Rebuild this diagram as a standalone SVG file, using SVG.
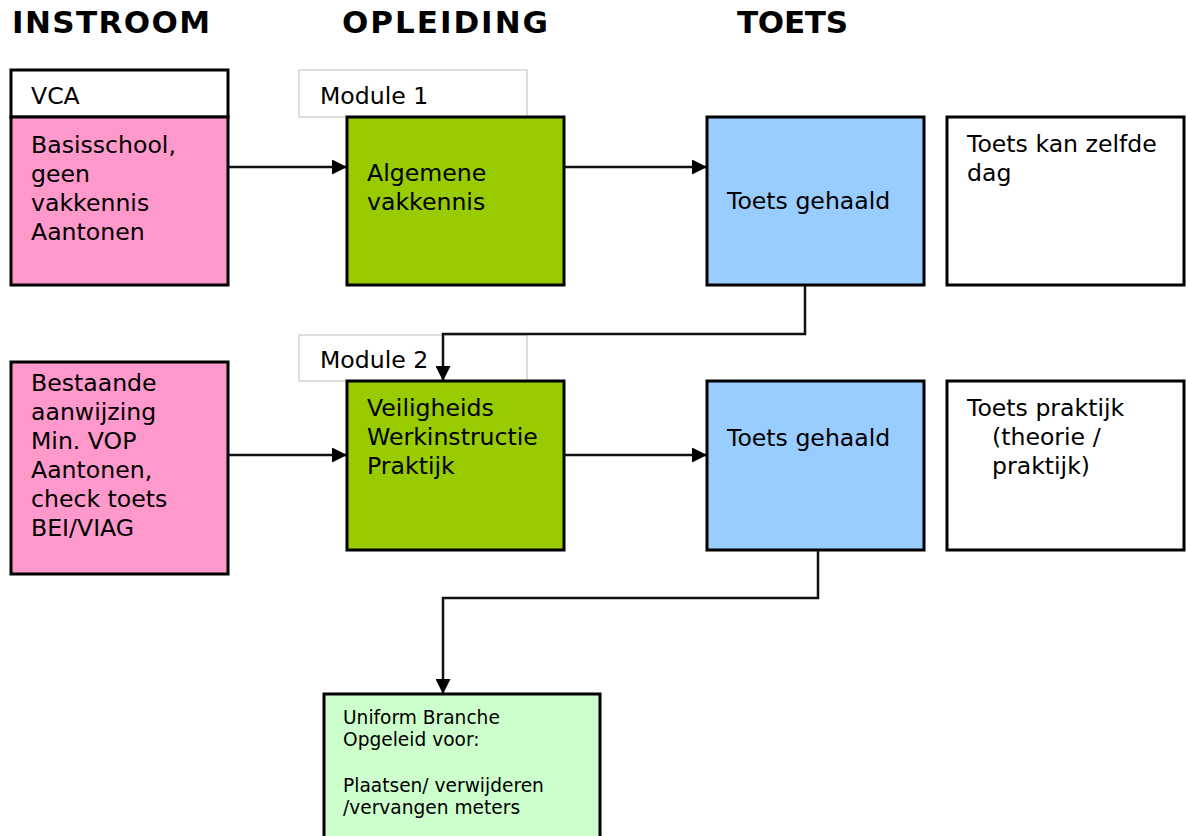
<svg xmlns="http://www.w3.org/2000/svg" width="1186" height="836" viewBox="0 0 1186 836">
<defs>
<marker id="arr" markerWidth="15" markerHeight="15" refX="14" refY="7.5" orient="auto" markerUnits="userSpaceOnUse"><path d="M0,0 L15,7.5 L0,15 Z" fill="#000"/></marker>
<style>
.t{font-family:"DejaVu Sans",Verdana,sans-serif;font-size:23.6px;fill:#000}
.s{font-family:"DejaVu Sans",Verdana,sans-serif;font-size:18.6px;fill:#000}
.h{font-family:"DejaVu Sans","Liberation Sans",sans-serif;font-size:31px;font-weight:bold;fill:#000}
.box{stroke:#000;stroke-width:3}
.lbl{fill:#fff;stroke:#c8c8c8;stroke-width:1.2}
.pink{fill:#FF99CC}.green{fill:#99CC00}.blue{fill:#99CCFF}.white{fill:#fff}.lg{fill:#CCFFCC}
.c{fill:none;stroke:#111;stroke-width:2.5}
</style>
</defs>
<rect width="1186" height="836" fill="#fff"/>
<g id="headers">
<text class="h" x="12" y="33" textLength="198" lengthAdjust="spacing">INSTROOM</text>
<text class="h" x="342" y="33" textLength="206" lengthAdjust="spacing">OPLEIDING</text>
<text class="h" x="737" y="33" textLength="111" lengthAdjust="spacing">TOETS</text>
</g>
<g id="vca">
<rect class="box white" x="11" y="70" width="217" height="47"/>
<text class="t" x="31" y="104">VCA</text>
</g>
<g id="instroom1">
<rect class="box pink" x="11" y="117" width="217" height="168"/>
<text class="t" x="31" y="153">Basisschool,</text>
<text class="t" x="31" y="182">geen</text>
<text class="t" x="31" y="211">vakkennis</text>
<text class="t" x="31" y="240">Aantonen</text>
</g>
<g id="module1">
<rect class="lbl" x="299" y="70" width="228" height="47"/>
<text class="t" x="320" y="104">Module 1</text>
</g>
<g id="opleiding1">
<rect class="box green" x="347" y="117" width="217" height="168"/>
<text class="t" x="367" y="181">Algemene</text>
<text class="t" x="367" y="210">vakkennis</text>
</g>
<g id="toets1">
<rect class="box blue" x="707" y="117" width="217" height="168"/>
<text class="t" x="727" y="209">Toets gehaald</text>
</g>
<g id="note1">
<rect class="box white" x="947" y="117" width="237" height="168"/>
<text class="t" x="967" y="152">Toets kan zelfde</text>
<text class="t" x="967" y="181">dag</text>
</g>
<g id="instroom2">
<rect class="box pink" x="11" y="362" width="217" height="212"/>
<text class="t" x="31" y="391">Bestaande</text>
<text class="t" x="31" y="420">aanwijzing</text>
<text class="t" x="31" y="449">Min. VOP</text>
<text class="t" x="31" y="478">Aantonen,</text>
<text class="t" x="31" y="507">check toets</text>
<text class="t" x="31" y="536">BEI/VIAG</text>
</g>
<g id="module2">
<rect class="lbl" x="299" y="335" width="228" height="46"/>
<text class="t" x="320" y="368">Module 2</text>
</g>
<g id="opleiding2">
<rect class="box green" x="347" y="381" width="217" height="169"/>
<text class="t" x="367" y="416">Veiligheids</text>
<text class="t" x="367" y="445">Werkinstructie</text>
<text class="t" x="367" y="474">Praktijk</text>
</g>
<g id="toets2">
<rect class="box blue" x="707" y="381" width="217" height="169"/>
<text class="t" x="727" y="446">Toets gehaald</text>
</g>
<g id="note2">
<rect class="box white" x="947" y="381" width="237" height="169"/>
<text class="t" x="967" y="416">Toets praktijk</text>
<text class="t" x="992" y="445">(theorie /</text>
<text class="t" x="992" y="474">praktijk)</text>
</g>
<g id="resultaat">
<rect class="box lg" x="324" y="694" width="276" height="150"/>
<text class="s" x="343" y="724">Uniform Branche</text>
<text class="s" x="343" y="746">Opgeleid voor:</text>
<text class="s" x="343" y="792">Plaatsen/ verwijderen</text>
<text class="s" x="343" y="814">/vervangen meters</text>
</g>
<g id="connectors">
<line class="c" x1="228" y1="167" x2="346" y2="167" marker-end="url(#arr)"/>
<line class="c" x1="564" y1="167" x2="706" y2="167" marker-end="url(#arr)"/>
<polyline class="c" points="805,286 805,334 443,334 443,380" marker-end="url(#arr)"/>
<line class="c" x1="228" y1="455" x2="346" y2="455" marker-end="url(#arr)"/>
<line class="c" x1="564" y1="455" x2="706" y2="455" marker-end="url(#arr)"/>
<polyline class="c" points="818,551 818,598 443,598 443,693" marker-end="url(#arr)"/>
</g>
</svg>
